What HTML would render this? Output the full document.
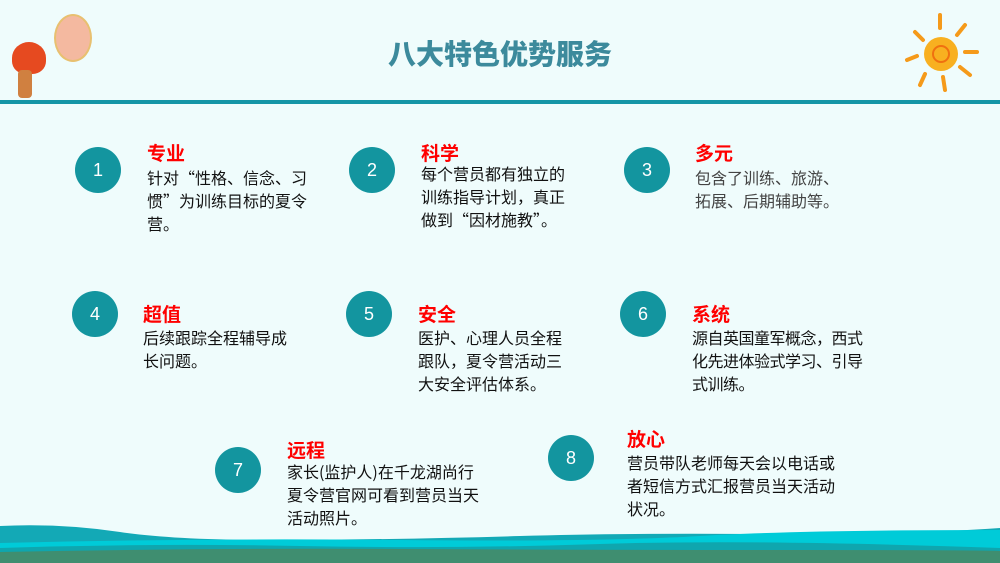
<!DOCTYPE html>
<html><head><meta charset="utf-8"><style>
body{margin:0;width:1000px;height:563px;overflow:hidden;background:#effcfc;position:relative;font-family:"Noto Sans CJK SC","Liberation Sans",sans-serif}
.c{position:absolute;width:46px;height:46px;border-radius:50%;background:#13959f;color:#fff;font-size:18px;text-align:center;line-height:46px;font-family:"Liberation Sans",sans-serif}
.t{position:absolute;color:#f00;font-weight:bold;font-size:19px;line-height:22px}
.b{position:absolute;color:#111;font-size:16px;line-height:23px;white-space:pre}
</style></head><body>
<div style="position:absolute;left:0;width:1000px;text-align:center;top:33px;font-size:28px;font-weight:900;color:#3c8a9c">八大特色优势服务</div>
<div style="position:absolute;left:0;top:100px;width:1000px;height:4px;background:#1495a6"></div>
<div style="position:absolute;left:54px;top:14px;width:34px;height:44px;border-radius:50%;background:#f4b9a0;border:2px solid #e8c070"></div>
<div style="position:absolute;left:12px;top:42px;width:34px;height:32px;background:#e64a20;border-radius:50% 50% 40% 40%"></div>
<div style="position:absolute;left:18px;top:70px;width:14px;height:28px;background:#d08040;border-radius:4px"></div>
<svg style="position:absolute;left:895px;top:10px" width="90" height="85"><g stroke="#f59a1a" stroke-width="4" stroke-linecap="round"><line x1="45" y1="5" x2="45" y2="18"/><line x1="70" y1="15" x2="62" y2="25"/><line x1="82" y1="42" x2="70" y2="42"/><line x1="75" y1="65" x2="65" y2="57"/><line x1="50" y1="80" x2="48" y2="67"/><line x1="25" y1="75" x2="30" y2="64"/><line x1="12" y1="50" x2="22" y2="46"/><line x1="20" y1="22" x2="28" y2="30"/></g><circle cx="46" cy="44" r="17" fill="#f8b020"/><circle cx="46" cy="44" r="8" fill="none" stroke="#f07010" stroke-width="2"/></svg>
<div class="c" style="left:75px;top:147px">1</div>
<div class="t" style="left:147px;top:142px">专业</div>
<div class="b" style="left:147px;top:166px">针对“性格、信念、习
惯”为训练目标的夏令
营。</div>
<div class="c" style="left:349px;top:147px">2</div>
<div class="t" style="left:421px;top:142px">科学</div>
<div class="b" style="left:421px;top:162px">每个营员都有独立的
训练指导计划，真正
做到“因材施教”。</div>
<div class="c" style="left:624px;top:147px">3</div>
<div class="t" style="left:695px;top:142px">多元</div>
<div class="b" style="left:695px;top:166px;color:#444">包含了训练、旅游、
拓展、后期辅助等。</div>
<div class="c" style="left:72px;top:291px">4</div>
<div class="t" style="left:143px;top:303px">超值</div>
<div class="b" style="left:143px;top:326px">后续跟踪全程辅导成
长问题。</div>
<div class="c" style="left:346px;top:291px">5</div>
<div class="t" style="left:418px;top:303px">安全</div>
<div class="b" style="left:418px;top:326px">医护、心理人员全程
跟队，夏令营活动三
大安全评估体系。</div>
<div class="c" style="left:620px;top:291px">6</div>
<div class="t" style="left:692px;top:303px">系统</div>
<div class="b" style="left:692px;top:326px;letter-spacing:-0.5px">源自英国童军概念，西式
化先进体验式学习、引导
式训练。</div>
<div class="c" style="left:215px;top:447px">7</div>
<div class="t" style="left:287px;top:439px">远程</div>
<div class="b" style="left:287px;top:460px">家长(监护人)在千龙湖尚行
夏令营官网可看到营员当天
活动照片。</div>
<div class="c" style="left:548px;top:435px">8</div>
<div class="t" style="left:627px;top:428px">放心</div>
<div class="b" style="left:627px;top:451px">营员带队老师每天会以电话或
者短信方式汇报营员当天活动
状况。</div>
<svg style="position:absolute;left:0;top:518px" width="1000" height="45" viewBox="0 0 1000 45">
<path d="M0 8 Q60 5 120 14 T300 22 T520 18 T760 16 T1000 10 V45 H0Z" fill="#13a9b6"/>
<path d="M0 25 Q200 20 400 22 T700 18 T1000 12 V45 H0Z" fill="#00cbd8"/>
<path d="M0 30 Q150 25 300 28 T600 26 T1000 30 V45 H0Z" fill="#0fa6ae"/>
<path d="M0 34 Q200 30 400 31 T800 32 T1000 33 V45 H0Z" fill="#3f8e70"/>
</svg>
</body></html>
